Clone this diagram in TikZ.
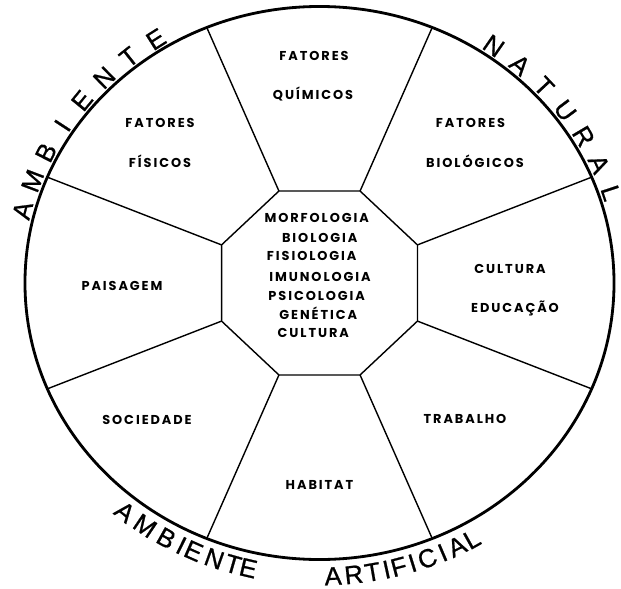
\documentclass[tikz,border=0pt]{standalone}
\usepackage{fontspec}
\newfontfamily\rotulos[LetterSpace=15]{Poppins}
\newfontfamily\arcos[FakeBold=0.8]{Liberation Sans}
\tikzset{
  divisa/.style={line width=1.2pt},
  rotulo/.style={font=\rotulos\bfseries\fontsize{11}{13}\selectfont, inner sep=0pt, text height=7.7pt, text depth=0pt},
  letra/.style={font=\arcos\fontsize{22}{26}\selectfont, inner sep=0pt, text height=15.7pt, text depth=0pt}
}
\begin{document}
\begin{tikzpicture}[x=0.03cm,y=-0.03cm]
    \useasboundingbox (0,0) rectangle (621,588);
    \begin{scope}[shift={(319.5,283)},x=8.835cm,y=8.295cm]
    % circulo externo
    \draw[line width=2.4pt] (0,0) ellipse [x radius=8.835cm, y radius=8.295cm];
    % vertices do octogono e pontos no circulo
    \foreach \a [count=\i] in {22.5,67.5,...,337.5} {
        \coordinate (o\i) at (\a:0.36);
        \coordinate (b\i) at (\a:1);
    }
    \draw[divisa] (o1) -- (o2) -- (o3) -- (o4) -- (o5) -- (o6) -- (o7) -- (o8) -- cycle;
    \foreach \i in {1,...,8}
        \draw[divisa] (o\i) -- (b\i);
    % AMBIENTE NATURAL
    \foreach \l [count=\i from 0] in {A,M,B,I,E,N,T,E}
        \node[letra, rotate={165.4-6.17*\i-90}] (an\i) at ({165.4-6.17*\i}:1.043) {\l};
    \foreach \l [count=\i from 0] in {N,A,T,U,R,A,L}
        \node[letra, rotate={55.4-6.2*\i-90}] (nt\i) at ({55.4-6.2*\i}:1.043) {\l};
    % AMBIENTE ARTIFICIAL
    \foreach \l/\a [count=\i] in {A/-128.6,M/-124.0,B/-119.4,I/-116.3,E/-113.8,N/-109.7,T/-106.1,E/-103.2}
        \node[letra, rotate=\a+90] (aa\i) at (\a:1.058) {\l};
    \foreach \l/\a [count=\i] in {A/-87.5,R/-83.7,T/-80.2,I/-77.6,F/-75.3,I/-72.7,C/-69.8,I/-66.8,A/-63.9,L/-60.8}
        \node[letra, rotate=\a+90] (ar\i) at (\a:1.06) {\l};
    \end{scope}
    % setores
    \node[rotulo] (qui1) at (314,56) {FATORES};
    \node[rotulo] (qui2) at (313,94.5) {QUÍMICOS};
    \node[rotulo] (fis1) at (160,123) {FATORES};
    \node[rotulo] (fis2) at (160,163) {FÍSICOS};
    \node[rotulo] (bio1) at (470.5,123) {FATORES};
    \node[rotulo] (bio2) at (475,163) {BIOLÓGICOS};
    \node[rotulo] (pais) at (122,286) {PAISAGEM};
    \node[rotulo] (cult1) at (510,269) {CULTURA};
    \node[rotulo] (cult2) at (515,307.5) {EDUCAÇÃO};
    \node[rotulo] (soc) at (147,420) {SOCIEDADE};
    \node[rotulo] (trab) at (465,419) {TRABALHO};
    \node[rotulo] (hab) at (319.5,485) {HABITAT};
    % centro
    \node[rotulo] (c1) at (316.7,217.7) {MORFOLOGIA};
    \node[rotulo] (c2) at (319.7,238.3) {BIOLOGIA};
    \node[rotulo] (c3) at (311.7,256) {FISIOLOGIA};
    \node[rotulo] (c4) at (320,276.7) {IMUNOLOGIA};
    \node[rotulo] (c5) at (316.7,296) {PSICOLOGIA};
    \node[rotulo] (c6) at (318.3,315) {GENÉTICA};
    \node[rotulo] (c7) at (313.3,333.3) {CULTURA};
\end{tikzpicture}
\end{document}
